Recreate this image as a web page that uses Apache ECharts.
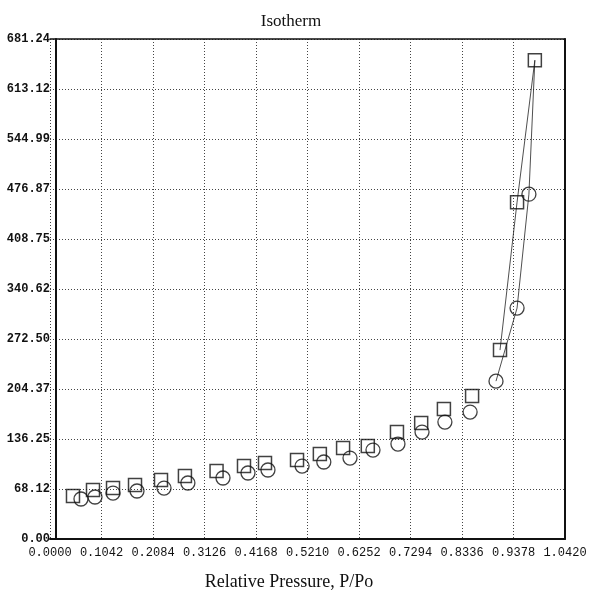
<!DOCTYPE html>
<html>
<head>
<meta charset="utf-8">
<script src="https://cdn.jsdelivr.net/npm/echarts@6/dist/echarts.min.js"></script>
<style>
html,body{margin:0;padding:0;background:#fff;}
#chart{width:594px;height:596px;}
</style>
</head>
<body>
<div id="chart"></div>
<script>
// Adsorption (squares)
var squareX = [0.0465, 0.0870, 0.1275, 0.1720, 0.2246, 0.2730, 0.3370, 0.3925, 0.4350, 0.4998,
               0.5460, 0.5930, 0.6430, 0.7020, 0.7510, 0.7970, 0.8540, 0.9105, 0.9450, 0.9810];
var squareY = [58.6, 66.7, 69.4, 73.5, 80.3, 85.8, 92.6, 99.4, 103.5, 107.6,
               115.7, 123.9, 126.6, 145.7, 158.0, 177.0, 194.7, 257.4, 458.9, 652.3];
// Desorption (circles)
var circleX = [0.0627, 0.0910, 0.1275, 0.1760, 0.2307, 0.2790, 0.3500, 0.4006, 0.4410, 0.5100,
               0.5540, 0.6070, 0.6535, 0.7040, 0.7527, 0.7990, 0.8500, 0.9024, 0.9450, 0.9690];
var circleY = [54.5, 57.2, 62.6, 65.4, 69.4, 76.3, 83.1, 89.9, 94.0, 99.4,
               104.9, 110.3, 121.2, 129.4, 145.7, 159.3, 172.9, 215.1, 314.6, 469.8];
var xTicks = ['0.0000','0.1042','0.2084','0.3126','0.4168','0.5210','0.6252','0.7294','0.8336','0.9378','1.0420'];
var yTicks = ['0.00','68.12','136.25','204.37','272.50','340.62','408.75','476.87','544.99','613.12','681.24'];
var xStep = 0.1042, yStep = 68.124;
var titleText = 'Isotherm';
var xName = 'Relative Pressure, P/Po';

function pairs(xs, ys){ return xs.map(function(x,i){ return [x, ys[i]]; }); }
var squares = pairs(squareX, squareY);
var circles = pairs(circleX, circleY);
var n = squares.length;
var squareLine = squares.slice(n-3);
var circleLine = circles.slice(n-3).concat([squares[n-1]]);

var chart = echarts.init(document.getElementById('chart'), null, {renderer:'canvas'});
var axisFontY = {fontFamily:'Liberation Mono', fontSize:12, fontWeight:'bold', color:'#111'};
var gridLine = {show:true, lineStyle:{color:'#444', width:1, type:[1,2]}};
chart.setOption({
  animation:false,
  backgroundColor:'#fff',
  title:[
    {text:titleText, left:286, top:8, textAlign:'center',
     textStyle:{fontFamily:'Liberation Serif', fontSize:17, fontWeight:'normal', color:'#111'}},
    {text:xName, left:284, top:568, textAlign:'center',
     textStyle:{fontFamily:'Liberation Serif', fontSize:18, fontWeight:'normal', color:'#111'}}
  ],
  grid:{left:50, right:29, top:39, bottom:57},
  xAxis:[{
    type:'value', min:0, max:1.042, interval:xStep, position:'bottom',
    axisLine:{show:true, onZero:false, lineStyle:{color:'#111', width:2}},
    axisTick:{show:false},
    splitLine:gridLine,
    axisLabel:{margin:8, fontFamily:'Liberation Mono', fontSize:12, color:'#111',
      formatter:function(v){ return xTicks[Math.round(v/xStep)]; }}
  },{
    type:'value', min:0, max:1.042, interval:xStep, position:'top',
    axisLine:{show:true, onZero:false, lineStyle:{color:'#111', width:1.5}},
    axisTick:{show:false}, axisLabel:{show:false}, splitLine:{show:false}
  }],
  yAxis:[{
    type:'value', min:0, max:681.24, interval:yStep, position:'left', offset:-6,
    axisLine:{show:true, onZero:false, lineStyle:{color:'#111', width:2}},
    axisTick:{show:false},
    splitLine:gridLine,
    axisLabel:Object.assign({margin:6,
      formatter:function(v){ return yTicks[Math.round(v/yStep)]; }}, axisFontY)
  },{
    type:'value', min:0, max:681.24, interval:yStep, position:'right',
    axisLine:{show:true, onZero:false, lineStyle:{color:'#111', width:2}},
    axisTick:{show:false}, axisLabel:{show:false}, splitLine:{show:false}
  }],
  series:[
    {type:'line', data:squareLine, symbol:'none', lineStyle:{color:'#222', width:0.8}, z:1},
    {type:'line', data:circleLine, symbol:'none', lineStyle:{color:'#222', width:0.8}, z:1},
    {type:'scatter', data:squares, symbol:'rect', symbolSize:13,
     itemStyle:{color:'rgba(0,0,0,0)', borderColor:'#111', borderWidth:1.5}, z:3},
    {type:'scatter', data:circles, symbol:'circle', symbolSize:14,
     itemStyle:{color:'rgba(0,0,0,0)', borderColor:'#111', borderWidth:1.3}, z:3}
  ]
});
</script>
</body>
</html>
